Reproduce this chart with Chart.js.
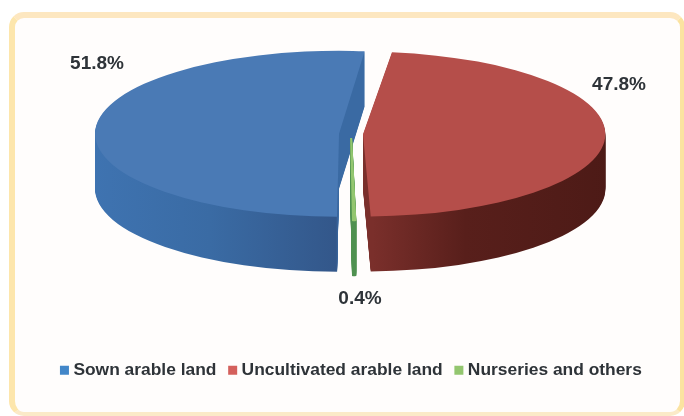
<!DOCTYPE html>
<html>
<head>
<meta charset="utf-8">
<script src="https://cdn.jsdelivr.net/npm/chart.js@4"></script>
<style>
html, body { margin: 0; padding: 0; background: #fff; }
#wrap { position: relative; width: 684px; height: 416px; overflow: hidden; filter: blur(0.5px); }
#panel { position: absolute; left: 9px; top: 12px; width: 665px; height: 394px; border-style: solid; border-width: 6px 5px 4px 6px; border-color: #fde7c0 #fbe3a0 #fbeac8 #fde6ac; border-radius: 15px; background: #fffdfc; }
#pie { position: absolute; left: 0; top: 0; }
</style>
</head>
<body>
<div id="wrap">
  <div id="panel"></div>
  <canvas id="pie" width="684" height="416"></canvas>
</div>
<script>
const categories = ['Sown arable land', 'Uncultivated arable land', 'Nurseries and others'];
const shares = [51.8, 47.8, 0.4];
const topColors = ['#4a7ab5', '#b54e4a', '#93c66f'];
const legendColors = ['#4286c8', '#d4605c', '#93c66f'];

// squashed look of the 3d pie
const squash = 0.34;
const depth = 55;
const centerY = 134;

function squashed(ctx, chart, arc) {
    ctx.translate(-2, centerY);
    ctx.scale(1, squash);
    ctx.translate(0, -arc.y);
}

function wallColor(ctx, i) {
    // the arc shifts itself by its offset, the blue stops are set 12px further right for that
    const g = ctx.createLinearGradient(95, 0, 610, 0);
    if (i == 0) {
        g.addColorStop(0, '#3f74b2');
        g.addColorStop(0.25, '#3a6ba4');
        g.addColorStop(0.495, '#33578a');
        g.addColorStop(0.5, '#3a6aa3');
        g.addColorStop(1, '#3a6aa3');
    } else if (i == 1) {
        g.addColorStop(0, '#7a2f2b');
        g.addColorStop(0.52, '#7a2f2b');
        g.addColorStop(0.7, '#581f1b');
        g.addColorStop(1, '#4c1a16');
    } else {
        g.addColorStop(0, '#4f9150');
        g.addColorStop(1, '#4f9150');
    }
    return g;
}

const pie3d = {
    id: 'pie3d',
    beforeDatasetsDraw(chart) {
        const ctx = chart.ctx;
        const arcs = chart.getDatasetMeta(0).data;
        [0, 2, 1].forEach(function(i) {
            const color = wallColor(ctx, i);
            const wall = Object.create(arcs[i]);
            wall.options = Object.assign({}, arcs[i].options, {backgroundColor: color, borderColor: color});
            for (let dy = depth; dy > 0; dy--) {
                ctx.save();
                ctx.translate(0, dy);
                squashed(ctx, chart, arcs[i]);
                wall.draw(ctx);
                ctx.restore();
            }
        });
        ctx.save();
        squashed(ctx, chart, arcs[0]);
    },
    afterDatasetsDraw(chart) {
        chart.ctx.restore();
    },
    afterDraw(chart) {
        const ctx = chart.ctx;
        const spots = [[97, 64], [619, 85], [360, 299]];
        ctx.save();
        ctx.font = 'bold 19px "Liberation Sans"';
        ctx.fillStyle = '#2e3338';
        ctx.textAlign = 'center';
        ctx.textBaseline = 'middle';
        shares.forEach(function(v, i) {
            ctx.fillText(v.toFixed(1) + '%', spots[i][0], spots[i][1]);
        });
        ctx.restore();
    }
};

new Chart(document.getElementById('pie').getContext('2d'), {
    type: 'pie',
    data: {
        labels: categories,
        datasets: [{
            data: shares,
            backgroundColor: topColors,
            borderColor: topColors,
            borderWidth: [0, 0, 2],
            offset: 48,
            radius: 232,
            clip: false
        }]
    },
    options: {
        responsive: false,
        animation: false,
        rotation: 180,
        layout: { padding: { left: 22, bottom: 27 } },
        plugins: {
            tooltip: { enabled: false },
            legend: {
                position: 'bottom',
                labels: {
                    usePointStyle: true,
                    pointStyle: 'rect',
                    boxWidth: 0.5,
                    boxHeight: 9,
                    padding: 16,
                    color: '#2e3338',
                    font: { family: '"Liberation Sans"', size: 17.4, weight: 'bold' },
                    generateLabels(chart) {
                        return Chart.overrides.pie.plugins.legend.labels.generateLabels(chart).map(function(item, i) {
                            item.fillStyle = legendColors[i];
                            item.lineWidth = 0;
                            return item;
                        });
                    }
                }
            }
        }
    },
    plugins: [pie3d]
});
</script>
</body>
</html>
